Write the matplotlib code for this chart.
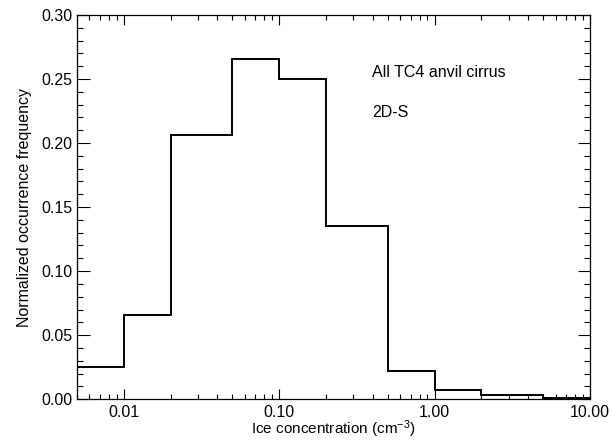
import matplotlib
matplotlib.use("Agg")
import matplotlib.pyplot as plt
from matplotlib.ticker import FixedLocator, LogLocator, MultipleLocator, FuncFormatter

plt.rcParams['font.family'] = ['Liberation Sans', 'DejaVu Sans']
plt.rcParams['mathtext.fontset'] = 'custom'
plt.rcParams['mathtext.rm'] = 'Liberation Sans'
plt.rcParams['mathtext.default'] = 'regular'

# bin edges (cm^-3) and normalized frequencies
bin_edges = [0.005, 0.01, 0.02, 0.05, 0.1, 0.2, 0.5, 1.0, 2.0, 5.0, 10.0]
freq = [0.025, 0.066, 0.206, 0.266, 0.250, 0.135, 0.022, 0.007, 0.0035, 0.0008]

xticks = [0.01, 0.1, 1.0, 10.0]
fs = 11.5

fig = plt.figure(figsize=(6.11, 4.42), dpi=100)
ax = fig.add_axes([0.126, 0.097, 0.8396, 0.869])

ax.stairs(freq, bin_edges, color='black', linewidth=1.4, baseline=None)

ax.set_xscale('log')
ax.set_xlim(0.005, 10)
ax.set_ylim(0, 0.30)

ax.xaxis.set_major_locator(FixedLocator(xticks))
ax.xaxis.set_minor_locator(LogLocator(base=10, subs=range(2, 10), numticks=20))
ax.xaxis.set_major_formatter(FuncFormatter(lambda v, p: f'{v:.2f}'))
ax.xaxis.set_minor_formatter(FuncFormatter(lambda v, p: ''))
ax.yaxis.set_major_locator(MultipleLocator(0.05))
ax.yaxis.set_minor_locator(MultipleLocator(0.01))
ax.yaxis.set_major_formatter(FuncFormatter(lambda v, p: f'{v:.2f}'))

ax.tick_params(which='both', direction='in', top=True, right=True, labelsize=fs, width=0.8)
ax.tick_params(axis='x', which='major', length=7, pad=4)
ax.tick_params(axis='x', which='minor', length=3.5)
ax.tick_params(axis='y', which='major', length=9, pad=3)
ax.tick_params(axis='y', which='minor', length=4.5)
for s in ax.spines.values():
    s.set_linewidth(0.9)

ax.set_xlabel('Ice concentration (cm$^{-3}$)', fontsize=11, labelpad=-1)
ax.set_ylabel('Normalized occurrence frequency', fontsize=fs, labelpad=7)

ax.text(0.575, 0.8385, 'All TC4 anvil cirrus', transform=ax.transAxes,
        fontsize=fs, va='baseline')
ax.text(0.575, 0.734, '2D-S', transform=ax.transAxes, fontsize=fs, va='baseline')

fig.savefig('out.png', dpi=100)
